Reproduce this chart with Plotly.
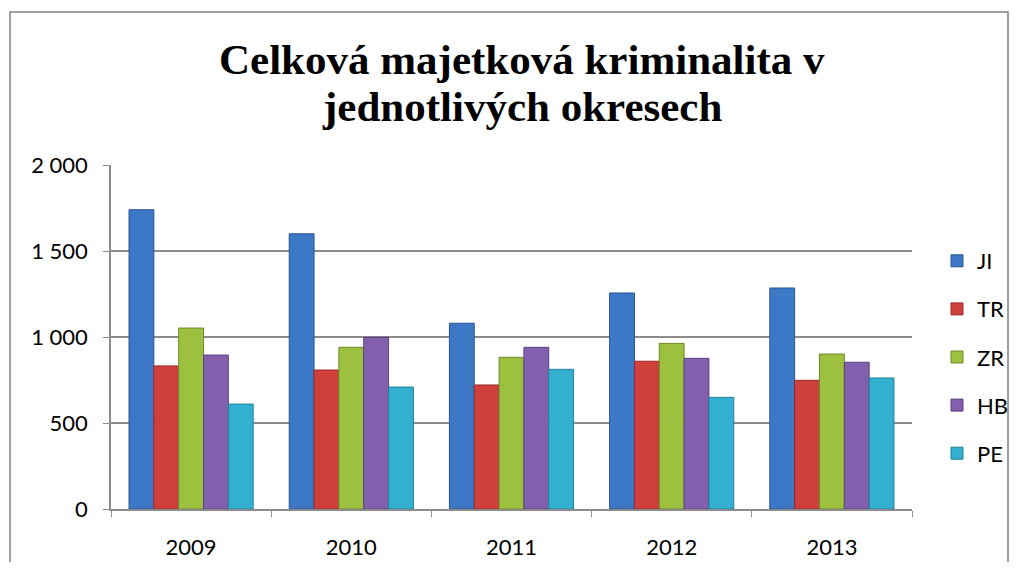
import plotly.graph_objects as go

years = ["2009", "2010", "2011", "2012", "2013"]
series_names = ["JI", "TR", "ZR", "HB", "PE"]
JI = [1740, 1600, 1080, 1256, 1285]
TR = [832, 808, 721, 859, 748]
ZR = [1052, 940, 882, 963, 901]
HB = [895, 998, 940, 876, 853]
PE = [610, 709, 812, 649, 762]
values = [JI, TR, ZR, HB, PE]
colors = ["#3D78C6", "#CF3F3C", "#9DC03E", "#8260AE", "#33AFCF"]
lines = ["#2A5590", "#962B2A", "#6E8A2A", "#5A4280", "#22809A"]
title_lines = ["<b>Celková majetková kriminalita v</b>", "<b>jednotlivých okresech</b>"]

fig = go.Figure()
for name, vals, c, lc in zip(series_names, values, colors, lines):
    fig.add_trace(go.Bar(
        x=years, y=vals, name=name, legendgroup=name,
        marker=dict(color=c, line=dict(color=lc, width=1)),
    ))

# page has an 8px body margin; work in figure coordinates
OFF = 8
W, H = 1018 - 2 * OFF, 570 - 2 * OFF
L, R, T, B = 111 - OFF, 912 - OFF, 165 - OFF, 509 - OFF
pw, ph = R - L, B - T


def px_x(p):
    return (p - OFF - L) / pw


def px_y(p):
    return (B - (p - OFF)) / ph


annotations = []
for txt, yc in zip(title_lines, [60, 107]):
    annotations.append(dict(
        text=txt,
        font=dict(family="Liberation Serif", size=43, color="black"),
        x=px_x(522), y=px_y(yc), xref="paper", yref="paper",
        xanchor="center", yanchor="middle", showarrow=False,
    ))

fig.update_layout(
    width=W, height=H, autosize=False,
    margin=dict(l=L, r=W - R, t=T, b=H - B, autoexpand=False),
    paper_bgcolor="white", plot_bgcolor="white",
    separators=". ",
    barmode="group", bargap=0.225, bargroupgap=0.0,
    legend=dict(
        x=px_x(937), y=px_y(240), xanchor="left", yanchor="top",
        font=dict(family="Lato", size=22, color="black"),
        tracegroupgap=16.5, bgcolor="rgba(0,0,0,0)",
        itemwidth=30,
    ),
    font=dict(family="Lato", size=22, color="black"),
    annotations=annotations,
    shapes=[dict(
        type="rect", xref="paper", yref="paper",
        x0=px_x(10), x1=px_x(1008), y0=px_y(600), y1=px_y(12),
        line=dict(color="#808080", width=1.5), layer="below",
    )],
)
fig.update_xaxes(
    automargin=False,
    showline=True, linecolor="#8c8c8c", linewidth=1.5,
    ticks="outside", tickson="boundaries", ticklen=6, tickcolor="#8c8c8c",
    ticklabelstandoff=18,
    tickfont=dict(family="Lato", size=22, color="black"),
)
fig.update_yaxes(
    automargin=False,
    range=[0, 2000], dtick=500, tickformat=",d",
    showgrid=True, gridcolor="#8c8c8c", gridwidth=1.5,
    showline=True, linecolor="#8c8c8c", linewidth=1.5,
    ticks="outside", ticklen=6, tickcolor="#8c8c8c",
    ticklabelstandoff=11,
    tickfont=dict(family="Lato", size=22, color="black"),
    zeroline=False,
)

fig.write_html("out.html")
